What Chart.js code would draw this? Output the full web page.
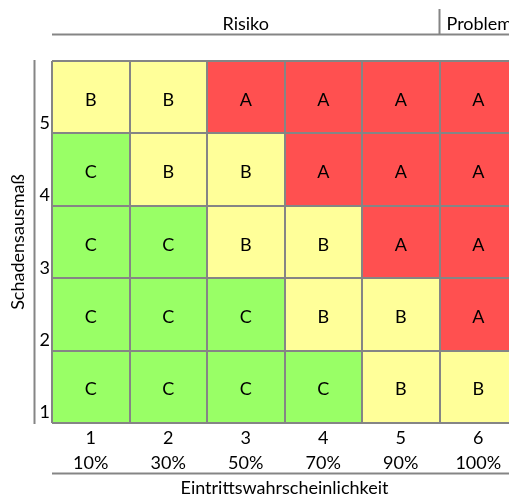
<!DOCTYPE html>
<html>
<head>
<meta charset="utf-8">
<title>Risikomatrix</title>
<script src="https://cdn.jsdelivr.net/npm/chart.js@4/dist/chart.umd.min.js"></script>
<style>
  html, body { margin: 0; padding: 0; background: #fff; overflow: hidden; }
  #wrap { width: 509px; height: 495px; overflow: hidden; position: relative; }
  canvas { display: block; }
</style>
</head>
<body>
<div id="wrap"><canvas id="matrix" width="530" height="495" style="width:530px;height:495px"></canvas></div>
<script>
// Eintrittswahrscheinlichkeit (columns) and Schadensausmaß (rows)
const probabilityLevels = ['1', '2', '3', '4', '5', '6'];
const probabilityPercent = ['10%', '30%', '50%', '70%', '90%', '100%'];
const severityLevels = ['1', '2', '3', '4', '5'];

// Rating per cell, one list per Schadensausmaß level (columns 1..6)
const ratingSeverity1 = ['C', 'C', 'C', 'C', 'B', 'B'];
const ratingSeverity2 = ['C', 'C', 'C', 'B', 'B', 'A'];
const ratingSeverity3 = ['C', 'C', 'B', 'B', 'A', 'A'];
const ratingSeverity4 = ['C', 'B', 'B', 'A', 'A', 'A'];
const ratingSeverity5 = ['B', 'B', 'A', 'A', 'A', 'A'];
const ratingRows = [ratingSeverity1, ratingSeverity2, ratingSeverity3, ratingSeverity4, ratingSeverity5];

const ratingColors = { A: '#FF5050', B: '#FFFF99', C: '#99FF66' };

const headerRisk = 'Risiko';
const headerProblem = 'Problem';
const axisTitleX = 'Eintrittswahrscheinlichkeit';
const axisTitleY = 'Schadensausmaß';

const FONT = 'Lato, "Open Sans", sans-serif';
const LINE_COLOR = '#858585';
const FONT_SIZE = 18;

Chart.defaults.font.family = FONT;
Chart.defaults.font.size = FONT_SIZE;
Chart.defaults.color = '#000';

// Each row of the matrix is a dataset of floating bars spanning one severity step
const datasets = severityLevels.map((level, i) => ({
  label: axisTitleY + ' ' + level,
  data: probabilityLevels.map(() => [i, i + 1]),
  ratings: ratingRows[i],
  backgroundColor: ratingRows[i].map(r => ratingColors[r]),
  borderWidth: 0,
  borderSkipped: false,
  categoryPercentage: 1,
  barPercentage: 1
}));

const matrixDecor = {
  id: 'matrixDecor',
  afterDatasetsDraw(chart) {
    const ctx = chart.ctx;
    ctx.save();
    ctx.font = FONT_SIZE + 'px ' + FONT;
    ctx.fillStyle = '#000';
    ctx.textAlign = 'center';
    ctx.textBaseline = 'middle';
    chart.data.datasets.forEach((ds, di) => {
      chart.getDatasetMeta(di).data.forEach((bar, i) => {
        const p = bar.getProps(['x', 'y', 'base'], true);
        ctx.fillText(ds.ratings[i], p.x, (p.y + p.base) / 2 + 3);
      });
    });
    ctx.restore();
  },
  afterDraw(chart) {
    const ctx = chart.ctx;
    const area = chart.chartArea;
    const xs = chart.scales.x;
    const split = (xs.getPixelForValue(4) + xs.getPixelForValue(5)) / 2;
    const headerLineY = 34.5;
    ctx.save();
    ctx.strokeStyle = LINE_COLOR;
    ctx.lineWidth = 2;
    ctx.beginPath();
    // header rule with separator between Risiko and Problem
    ctx.moveTo(area.left, headerLineY);
    ctx.lineTo(chart.width, headerLineY);
    ctx.moveTo(split, 9);
    ctx.lineTo(split, headerLineY);
    // vertical rule left of the severity labels
    ctx.moveTo(34.5, area.top - 1);
    ctx.lineTo(34.5, area.bottom + 1);
    // rule below the probability labels
    ctx.moveTo(area.left, 473.5);
    ctx.lineTo(chart.width, 473.5);
    ctx.stroke();

    ctx.fillStyle = '#000';
    ctx.font = FONT_SIZE + 'px ' + FONT;
    ctx.textBaseline = 'middle';
    ctx.textAlign = 'center';
    ctx.fillText(headerRisk, (area.left + split) / 2, 24);
    ctx.textAlign = 'left';
    ctx.fillText(headerProblem, split + 7, 24);
    ctx.restore();
  }
};

new Chart(document.getElementById('matrix'), {
  type: 'bar',
  data: {
    labels: probabilityLevels.map((p, i) => [p, probabilityPercent[i]]),
    datasets
  },
  options: {
    responsive: false,
    devicePixelRatio: 1,
    animation: false,
    grouped: false,
    layout: { padding: { top: 61, right: 13, left: 0, bottom: 0 } },
    plugins: { legend: { display: false }, tooltip: { enabled: false } },
    scales: {
      x: {
        grid: { offset: true, color: LINE_COLOR, lineWidth: 2, drawTicks: false, z: 1 },
        border: { display: false },
        ticks: { padding: 3, font: { size: FONT_SIZE, lineHeight: 25 / FONT_SIZE }, maxRotation: 0 },
        title: { display: true, text: axisTitleX, padding: 0, font: { size: FONT_SIZE, lineHeight: 0.8 } },
        afterFit(scale) { scale.height = 72; }
      },
      y: {
        min: 0,
        max: 5,
        grid: { color: LINE_COLOR, lineWidth: 2, drawTicks: false, z: 1 },
        border: { display: false },
        ticks: {
          stepSize: 1,
          padding: 2,
          labelOffset: -10.5,
          callback: v => (v < severityLevels.length ? severityLevels[v] : '')
        },
        title: { display: true, text: axisTitleY, padding: { top: 7, bottom: 0 }, font: { size: FONT_SIZE, lineHeight: 1.2 } },
        afterFit(scale) { scale.width = 52; }
      }
    }
  },
  plugins: [matrixDecor]
});
</script>
</body>
</html>
